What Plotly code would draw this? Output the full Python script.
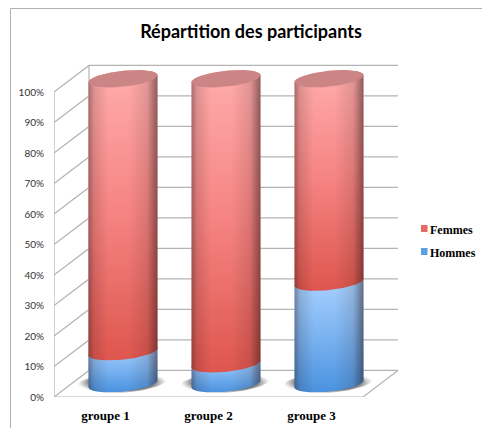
import numpy as np
import plotly.graph_objects as go

# Data
groups = ["groupe 1", "groupe 2", "groupe 3"]
hommes = [10.5, 6.5, 33.3]
femmes = [89.5, 93.5, 66.7]
y_ticks = [0, 10, 20, 30, 40, 50, 60, 70, 80, 90, 100]
y_labels = [f"{v}%" for v in y_ticks]
title_text = "Répartition des participants"

# Scene geometry (axis units)
W, H = 482, 428
L, R, T, B = 54, 84, 64, 31
X_RANGE = [-0.5, 2.84]
Y_RANGE = [0, 109.18]
DX, DY = 0.34, 8.7        # depth of the 3D box
RX, RY = 0.335, 2.6       # cylinder ellipse radii
TILT = 1.15               # rise of ellipse across its radius
FLOOR_END = 2.5

def arc(cx, cy, start, stop, n=40):
    t = np.linspace(start, stop, n)
    x = cx + RX * np.cos(t)
    y = cy + RY * np.sin(t) + TILT * np.cos(t)
    return list(x), list(y)

def segment(cx, low, high):
    x1, y1 = arc(cx, high, 0, np.pi)
    x2, y2 = arc(cx, low, np.pi, 2 * np.pi)
    return x1 + x2 + x1[:1], y1 + y2 + y1[:1]

fig = go.Figure()

# Real bars, hidden beneath the rendered cylinders
cx = [i + DX / 2 for i in range(len(groups))]
base0 = DY / 2
fig.add_bar(x=cx, y=hommes, base=[base0] * 3, width=0.5, marker_color="#6aa6e8", showlegend=False, hoverinfo="skip")
fig.add_bar(x=cx, y=femmes, base=[base0 + h for h in hommes], width=0.5, marker_color="#f07f7c", showlegend=False, hoverinfo="skip")

# Box wireframe
gx, gy = [], []
for v in y_ticks:
    gx += [-0.5, -0.5 + DX, FLOOR_END + DX, None]
    gy += [v, v + DY, v + DY, None]
gx += [-0.5, -0.5, None, -0.5, FLOOR_END, FLOOR_END + DX, None, -0.5 + DX, -0.5 + DX, None]
gy += [0, 100, None, 0, 0, DY, None, DY, 100 + DY, None]
fig.add_scatter(x=gx, y=gy, mode="lines", line=dict(color="#b4b4b4", width=1.2), showlegend=False, hoverinfo="skip", cliponaxis=False)

H_SHADE = dict(type="horizontal", colorscale=[
    [0, "rgba(40,20,20,0.40)"], [0.08, "rgba(40,20,20,0.15)"], [0.28, "rgba(40,20,20,0.0)"],
    [0.58, "rgba(40,20,20,0.0)"], [0.85, "rgba(40,20,20,0.13)"], [1, "rgba(40,20,20,0.52)"]])

for c, h, f in zip(cx, hommes, femmes):
    # floor shadow
    t = np.linspace(0, 2 * np.pi, 80)
    sx = c - 0.01 + 0.44 * np.cos(t)
    sy = base0 + 3.5 * np.sin(t) + 1.2 * np.cos(t) + 0.4
    fig.add_scatter(x=sx, y=sy, mode="lines", line=dict(width=0), fill="toself", showlegend=False, hoverinfo="skip",
                    fillgradient=dict(type="radial", colorscale=[[0, "rgba(70,70,70,0.95)"], [0.72, "rgba(90,90,90,0.8)"], [1, "rgba(150,150,150,0)"]]))
    for low, high, bottom, mid, top in (
        (base0, base0 + h, "#4a92de", "#7eb5f2", "#acd4ff"),
        (base0 + h, base0 + h + f, "#de564e", "#f58381", "#ffacac"),
    ):
        px, py = segment(c, low, high)
        fig.add_scatter(x=px, y=py, mode="lines", line=dict(width=0), fill="toself", showlegend=False, hoverinfo="skip",
                        fillgradient=dict(type="vertical", colorscale=[[0, bottom], [0.5, mid], [1, top]]))
        fig.add_scatter(x=px, y=py, mode="lines", line=dict(width=0), fill="toself", showlegend=False, hoverinfo="skip",
                        fillgradient=H_SHADE)
    # top cap
    ax, ay = arc(c, base0 + h + f, 0, 2 * np.pi, 80)
    fig.add_scatter(x=ax, y=ay, mode="lines", line=dict(width=0), fill="toself", fillcolor="#cb8585", showlegend=False, hoverinfo="skip")

# Legend entries
fig.add_scatter(x=[None], y=[None], mode="markers", name="Femmes", legendgroup="f", marker=dict(symbol="square", size=7, color="rgba(0,0,0,0)"))
fig.add_scatter(x=[None], y=[None], mode="markers", name="Hommes", legendgroup="h", marker=dict(symbol="square", size=7, color="rgba(0,0,0,0)"))

def paper_x(px):
    return (px - L) / (W - L - R)

def paper_y(py):
    return (H - B - py) / (H - T - B)

frame = dict(color="#b0b0b0", width=1)
shapes = [
    dict(type="rect", xref="paper", yref="paper", x0=paper_x(421), x1=paper_x(427.5), y0=paper_y(232), y1=paper_y(225), fillcolor="#e56a66", line_width=0),
    dict(type="rect", xref="paper", yref="paper", x0=paper_x(421), x1=paper_x(427.5), y0=paper_y(255), y1=paper_y(248), fillcolor="#5d9fe6", line_width=0),
    dict(type="line", xref="paper", yref="paper", x0=paper_x(10.5), x1=paper_x(10.5), y0=paper_y(8.5), y1=paper_y(428), line=frame),
    dict(type="line", xref="paper", yref="paper", x0=paper_x(10.5), x1=paper_x(482), y0=paper_y(8.5), y1=paper_y(8.5), line=frame),
]

fig.update_layout(
    width=W, height=H, margin=dict(l=L, r=R, t=T, b=B, autoexpand=False),
    paper_bgcolor="white", plot_bgcolor="white", barmode="overlay", shapes=shapes,
    title=dict(text=f"<b>{title_text}</b>", x=251 / W, xanchor="center", y=1 - 32 / H, yanchor="middle",
               font=dict(family="Lato", size=18, color="black")),
    xaxis=dict(range=X_RANGE, tickvals=list(range(3)), ticktext=groups, showgrid=False, zeroline=False, showline=False,
               ticks="", ticklabelstandoff=9, tickfont=dict(family="Liberation Serif", size=13, color="black", weight="bold")),
    yaxis=dict(range=Y_RANGE, tickvals=y_ticks, ticktext=y_labels, showgrid=False, zeroline=False, showline=False,
               ticks="", ticklabelstandoff=9, tickfont=dict(family="Lato", size=10, color="#333333")),
    legend=dict(x=paper_x(390), xanchor="left", y=paper_y(215), yanchor="top", bgcolor="rgba(0,0,0,0)", tracegroupgap=4,
                itemclick=False, itemdoubleclick=False, font=dict(family="Liberation Serif", size=12, color="black", weight="bold")),
    showlegend=True,
)
fig.write_html("out.html", config=dict(displayModeBar=False),
               post_script="document.body.style.margin='0';document.documentElement.style.overflow='hidden';")
